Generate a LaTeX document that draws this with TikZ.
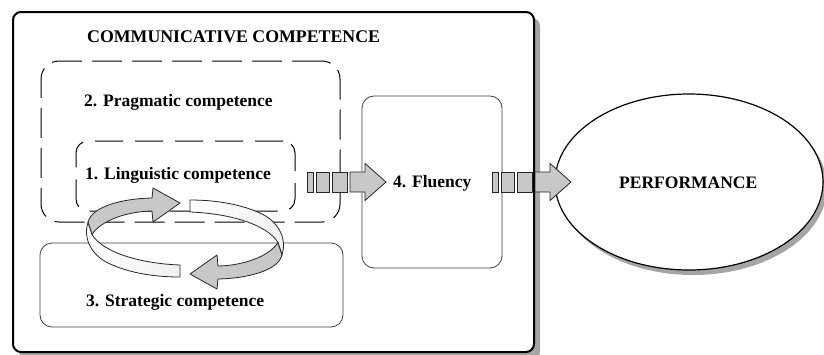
\documentclass[tikz,border=0pt]{standalone}
\usepackage{fontspec}
\setmainfont{Liberation Serif}
\usetikzlibrary{shapes.geometric}
\definecolor{arrowgray}{RGB}{200,200,200}
\definecolor{shadowgray}{RGB}{165,165,165}
\begin{document}
\begin{tikzpicture}[x=1pt,y=-1pt,
  lbl/.style={font=\fontsize{17.5}{20}\selectfont\bfseries, inner sep=0pt, anchor=base west},
  rbox/.style={draw, rounded corners=#1, inner sep=0pt},
  blk/.style={draw=black!85, fill=arrowgray, line width=0.8pt},
  ribw/.style={draw=black!85, line width=0.8pt, left color=white, right color=black!6},
  ribg/.style={draw=black!85, line width=0.8pt, fill=arrowgray},
  pics/blockarr/.style={code={
    \draw[blk] (0,-10) rectangle (6,10);
    \draw[blk] (9,-10) rectangle (22,10);
    \draw[blk] (25,-10) rectangle (40,10);
    \draw[blk] (43,-10) -- (58,-10) -- (58,-18.5) -- (79,0) -- (58,18.5) -- (58,10) -- (43,10) -- cycle;
  }},
  pics/looparr/.style={code={
    \draw[ribg] (-97,-16) .. controls (-94,-32) and (-62,-40) .. (-33,-40.5)
      -- (-32,-50.5) -- (-5,-35.5) -- (-32,-16.5) -- (-33,-27.5)
      .. controls (-60,-27) and (-85,-17) .. (-93,-4) -- cycle;
    \draw[ribw] (-5,26.5) .. controls (-45,25) and (-82,14) .. (-93,-4)
      -- (-97,-16)
      .. controls (-102,-2) and (-95,15) .. (-78,24)
      .. controls (-60,33) and (-35,38.5) .. (-5,38.5) -- cycle;
  }}]
\useasboundingbox (0,0) rectangle (824,354);
% outer box with shadow
\fill[shadowgray, rounded corners=8pt] (19,18) rectangle (540,360);
\node[rbox=8pt, line width=2pt, fill=white, minimum width=521pt, minimum height=340pt] (outer) at (273.5,182) {};
% inner boxes
\node[rbox=18pt, dash pattern=on 30pt off 10pt, line width=1pt, minimum width=299pt, minimum height=161pt] (prag) at (190.5,141.5) {};
\node[rbox=12pt, dash pattern=on 28pt off 12pt, line width=1pt, minimum width=219pt, minimum height=70pt] (ling) at (185.5,176) {};
\node[rbox=12pt, draw=black!75, line width=0.8pt, minimum width=303pt, minimum height=84pt] (strat) at (191.5,285) {};
\node[rbox=12pt, draw=black!75, line width=0.8pt, minimum width=140pt, minimum height=172pt] (flu) at (432,182) {};
% performance ellipse with shadow
\fill[shadowgray] (693,187) ellipse [x radius=134, y radius=88];
\node[ellipse, draw, line width=1.2pt, fill=white, minimum width=268pt, minimum height=176pt, inner sep=0pt] (perf) at (689,182) {};
% block arrows
\pic at (307,182) {blockarr};
\pic at (492,182) {blockarr};
% circular arrows
\pic at (185,238.5) {looparr};
\pic[rotate=180] at (185,238.5) {looparr};
% texts
\node[lbl, font=\fontsize{17.8}{20}\selectfont\bfseries] (ttitle) at (87,42) {COMMUNICATIVE COMPETENCE};
\node[lbl] (tprag) at (84,106) {2. Pragmatic competence};
\node[lbl] (tling) at (85,179) {1. Linguistic competence};
\node[lbl] (tstrat) at (86,306) {3. Strategic competence};
\node[lbl] (tflu) at (393,187) {4. Fluency};
\node[lbl] (tperf) at (619,188) {PERFORMANCE};
\end{tikzpicture}
\end{document}
